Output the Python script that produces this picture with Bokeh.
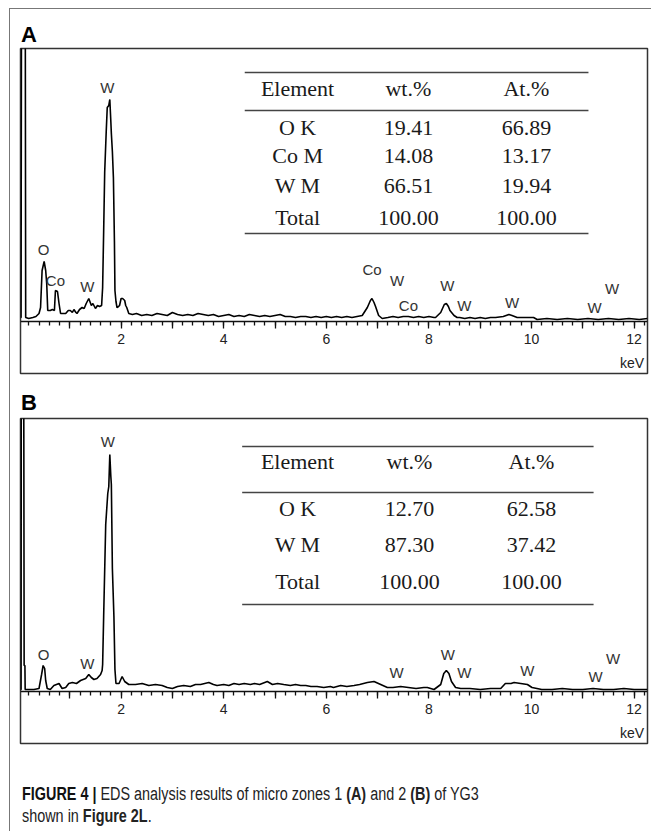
from bokeh.plotting import figure
from bokeh.models import FixedTicker, Label, Div
from bokeh.layouts import column
from bokeh.embed import file_html
from bokeh.resources import INLINE
from bokeh.core.properties import value

# ---------------- data ----------------
# Panel A spectrum (keV, intensity in arbitrary units)
energy_a = [0.04, 0.05, 0.06, 0.13, 0.14, 0.20, 0.28, 0.34, 0.40, 0.43, 0.46, 0.50, 0.53, 0.55, 0.57,
            0.62, 0.66, 0.70, 0.72, 0.76, 0.79, 0.82, 0.87, 0.92, 0.97, 1.01, 1.05, 1.08, 1.12, 1.14,
            1.19, 1.24, 1.28, 1.32, 1.37, 1.42, 1.45, 1.50, 1.54, 1.58, 1.62, 1.64, 1.66, 1.68, 1.71,
            1.73, 1.76, 1.78, 1.80, 1.81, 1.83, 1.85, 1.87, 1.88, 1.90, 1.92, 1.95, 1.97, 2.00, 2.03,
            2.07, 2.09, 2.11, 2.15, 2.22, 2.3, 2.4, 2.5, 2.6, 2.7, 2.8, 2.9, 3.0, 3.1, 3.2, 3.3, 3.4,
            3.5, 3.6, 3.7, 3.8, 3.9, 4.0, 4.1, 4.2, 4.3, 4.4, 4.5, 4.6, 4.7, 4.8, 4.9, 5.0, 5.1, 5.2,
            5.3, 5.4, 5.5, 5.6, 5.7, 5.8, 5.9, 6.0, 6.1, 6.2, 6.3, 6.4, 6.5, 6.6, 6.70, 6.80, 6.86,
            6.89, 6.93, 6.96, 7.02, 7.09, 7.2, 7.3, 7.4, 7.5, 7.6, 7.7, 7.8, 7.9, 8.0, 8.1, 8.13, 8.23,
            8.30, 8.34, 8.38, 8.41, 8.49, 8.55, 8.6, 8.7, 8.8, 8.9, 9.0, 9.1, 9.2, 9.3, 9.45, 9.56,
            9.62, 9.72, 9.85, 10.0, 10.04, 10.11, 10.3, 10.5, 10.7, 10.9, 11.1, 11.3, 11.5, 11.7,
            11.9, 12.1, 12.26]
counts_a = [4, 4, 400, 400, 4, 3, 4, 5, 8, 14, 51, 60, 51, 38, 11,
            11, 12, 11, 31, 30, 18, 8, 8, 8, 11, 11, 9, 12, 9, 8,
            12, 14, 13, 18, 23, 16, 18, 13, 16, 15, 16, 34, 90, 149, 190,
            214, 216, 222, 200, 188, 170, 144, 80, 31, 20, 14, 15, 16, 23, 23,
            21, 16, 14, 8, 7, 8, 6, 7, 6, 8, 7, 6, 9, 7, 6, 7, 6,
            8, 7, 6, 7, 5, 6, 7, 5, 6, 5, 7, 6, 5, 6, 5, 6, 7, 5,
            5, 4, 5, 5, 4, 5, 4, 5, 4, 5, 4, 5, 4, 5, 6, 14, 21,
            23, 19, 15, 6, 3, 4, 5, 4, 5, 5, 4, 5, 4, 5, 4, 4, 9,
            17, 18, 15, 11, 6, 4, 4, 3, 4, 3, 4, 3, 4, 4, 5, 7,
            6, 4, 4, 4, 4, 2, 3, 2, 3, 2, 3, 2, 3, 2,
            3, 2, 3]

# Panel B spectrum
energy_b = [0.04, 0.05, 0.055, 0.10, 0.11, 0.125, 0.13, 0.2, 0.3, 0.40, 0.45, 0.48, 0.51, 0.53, 0.56,
            0.62, 0.69, 0.74, 0.79, 0.85, 0.92, 0.98, 1.05, 1.13, 1.21, 1.26, 1.31, 1.37, 1.42, 1.47,
            1.53, 1.60, 1.63, 1.64, 1.66, 1.70, 1.74, 1.76, 1.78, 1.80, 1.81, 1.83, 1.86, 1.88, 1.90,
            1.96, 2.02, 2.07, 2.15, 2.28, 2.41, 2.54, 2.67, 2.80, 2.90, 3.0, 3.1, 3.22, 3.35, 3.45,
            3.55, 3.71, 3.8, 3.87, 4.0, 4.1, 4.2, 4.3, 4.4, 4.52, 4.6, 4.7, 4.85, 4.95, 5.05, 5.17,
            5.3, 5.4, 5.5, 5.6, 5.7, 5.82, 5.95, 6.08, 6.14, 6.28, 6.4, 6.54, 6.65, 6.80, 6.93, 7.06,
            7.19, 7.3, 7.45, 7.6, 7.75, 7.9, 7.97, 8.10, 8.23, 8.29, 8.34, 8.39, 8.44, 8.52, 8.62,
            8.8, 9.0, 9.2, 9.4, 9.49, 9.6, 9.66, 9.79, 9.92, 10.01, 10.2, 10.4, 10.6, 10.8, 11.0,
            11.2, 11.4, 11.6, 11.8, 12.0, 12.26]
counts_b = [2, 2, 400, 400, 26, 26, 2, 2, 2, 3, 17, 26, 23, 11, 3,
            2, 6, 7, 8, 3, 4, 8, 9, 8, 11, 12, 13, 17, 14, 12,
            13, 17, 21, 27, 75, 167, 198, 205, 237, 215, 207, 123, 75, 22, 8,
            8, 15, 10, 7, 7, 8, 6, 7, 6, 4, 3, 5, 6, 5, 7,
            7, 9, 7, 6, 7, 6, 8, 7, 8, 7, 8, 7, 10, 7, 8, 7,
            6, 7, 6, 6, 5, 5, 4, 5, 4, 6, 5, 6, 7, 9, 10, 7,
            4, 4, 5, 4, 3, 4, 4, 2, 7, 18, 21, 18, 10, 4, 3,
            3, 2, 3, 3, 8, 8, 9, 8, 7, 4, 2, 2, 3, 2, 2,
            3, 2, 2, 3, 2, 2]

# peak labels (text, keV, intensity)
peak_text_a = ["W", "O", "Co", "W", "Co", "W", "Co", "W", "W", "W", "W", "W"]
peak_x_a = [1.73, 0.49, 0.72, 1.34, 6.89, 7.38, 7.60, 8.36, 8.69, 9.62, 11.23, 11.57]
peak_y_a = [234, 72, 41, 35, 52, 41, 16, 36, 16, 19, 14, 33]

peak_text_b = ["W", "O", "W", "W", "W", "W", "W", "W", "W"]
peak_x_b = [1.74, 0.49, 1.34, 7.37, 8.37, 8.69, 9.92, 11.25, 11.59]
peak_y_b = [250, 37, 28, 19, 37, 19, 21, 15, 33]

# composition tables
table_header = ["Element", "wt.%", "At.%"]
elements_a = ["O K", "Co M", "W M", "Total"]
wt_a = ["19.41", "14.08", "66.51", "100.00"]
at_a = ["66.89", "13.17", "19.94", "100.00"]
elements_b = ["O K", "W M", "Total"]
wt_b = ["12.70", "87.30", "100.00"]
at_b = ["62.58", "37.42", "100.00"]

x_ticks = [1, 2, 3, 4, 5, 6, 7, 8, 9, 10, 11, 12]
x_tick_labels = {t: (str(t) if t % 2 == 0 else "") for t in x_ticks}

# ---------------- styling ----------------
SANS = "Liberation Sans"
SERIF = "Liberation Serif"
X_RANGE = (0.039, 12.261)
Y_RANGE = (-52, 273)
W = 641


def panel_letter(letter, height, pad_top):
    return Div(text=(f'<div style="padding-top:{pad_top}px;padding-left:11px;'
                     f'font-family:\'Liberation Sans\';font-weight:bold;font-size:22px;'
                     f'line-height:22px;color:#000">{letter}</div>'),
               width=W, height=height, margin=0)


def make_panel(energy, counts, ptext, px, py, elements, wt, at,
               col_x, line_x, row_y, line_y, bottom_border, height):
    p = figure(width=W, height=height, x_range=X_RANGE, y_range=Y_RANGE,
               output_backend="svg", toolbar_location=None,
               x_axis_location="below", y_axis_location=None,
               min_border_left=10, min_border_right=4,
               min_border_top=2, min_border_bottom=bottom_border)
    p.grid.visible = False
    p.outline_line_color = "#333333"
    p.outline_line_width = 1.5
    p.background_fill_color = "white"
    p.border_fill_color = "white"

    ax = p.xaxis[0]
    ax.fixed_location = 0
    ax.ticker = FixedTicker(ticks=x_ticks, minor_ticks=[round(0.2 * i, 1) for i in range(1, 62)])
    ax.major_label_overrides = x_tick_labels
    ax.major_tick_in = 0
    ax.major_tick_out = 7
    ax.minor_tick_in = 0
    ax.minor_tick_out = 4
    ax.axis_line_width = 1.5
    ax.major_tick_line_width = 1.3
    ax.minor_tick_line_width = 1.3
    ax.axis_line_color = "#111111"
    ax.major_tick_line_color = "#111111"
    ax.minor_tick_line_color = "#111111"
    ax.major_label_text_font = SANS
    ax.major_label_text_font_size = "14px"
    ax.major_label_text_color = "#222222"
    ax.major_label_standoff = 5

    p.line(energy, counts, line_color="black", line_width=1.6)

    p.text(px, py, text=ptext, text_font=value(SANS), text_font_size="15px",
           text_color="#333333", text_align="center", text_baseline="middle")

    p.add_layout(Label(x=11.96, y=-41, text="keV", text_font=SANS, text_font_size="14px",
                       text_color="#222222", text_align="center", text_baseline="middle"))

    # table rules
    p.segment(x0=[line_x[0]] * len(line_y), x1=[line_x[1]] * len(line_y), y0=line_y, y1=line_y,
              line_color="#444444", line_width=1.5)
    # table header + rows
    xs, ys, ts = [], [], []
    for c, h in zip(col_x, table_header):
        xs.append(c); ys.append(row_y[0]); ts.append(h)
    for r, (e, w, a) in enumerate(zip(elements, wt, at)):
        for c, t in zip(col_x, (e, w, a)):
            xs.append(c); ys.append(row_y[r + 1]); ts.append(t)
    p.text(xs, ys, text=ts, text_font=value(SERIF), text_font_size="22px",
           text_color="#1a1a1a", text_align="center", text_baseline="middle")
    return p


labA = panel_letter("A", 37, 15)
pA = make_panel(energy_a, counts_a, peak_text_a, peak_x_a, peak_y_a,
                elements_a, wt_a, at_a,
                col_x=[5.44, 7.60, 9.90], line_x=(4.41, 11.11),
                row_y=[233, 194, 166, 136, 104], line_y=[249, 211, 88],
                bottom_border=10, height=337)

labB = panel_letter("B", 33, 9)
pB = make_panel(energy_b, counts_b, peak_text_b, peak_x_b, peak_y_b,
                elements_b, wt_b, at_b,
                col_x=[5.44, 7.62, 10.0], line_x=(4.36, 11.21),
                row_y=[230, 183, 147, 110], line_y=[245, 199, 87],
                bottom_border=22, height=349)

caption = Div(text=(
    '<div style="padding-left:12px;padding-top:18px;">'
    '<div style="transform:scaleX(0.80);transform-origin:left top;white-space:nowrap;'
    'font-family:\'Liberation Sans\';font-size:18px;line-height:22px;color:#222">'
    '<span style="font-weight:bold;color:#111">FIGURE 4 |</span> EDS analysis results of micro zones 1 '
    '<b>(A)</b> and 2 <b>(B)</b> of YG3<br>shown in <b>Figure 2L</b>.</div></div>'),
    width=W, height=66, margin=0)

layout = column(labA, pA, labB, pB, caption, margin=(8, 0, 0, 9),
                styles={"border-left": "1px solid #777", "border-top": "1px solid #777"})

open("out.html", "w").write(file_html(layout, INLINE))
